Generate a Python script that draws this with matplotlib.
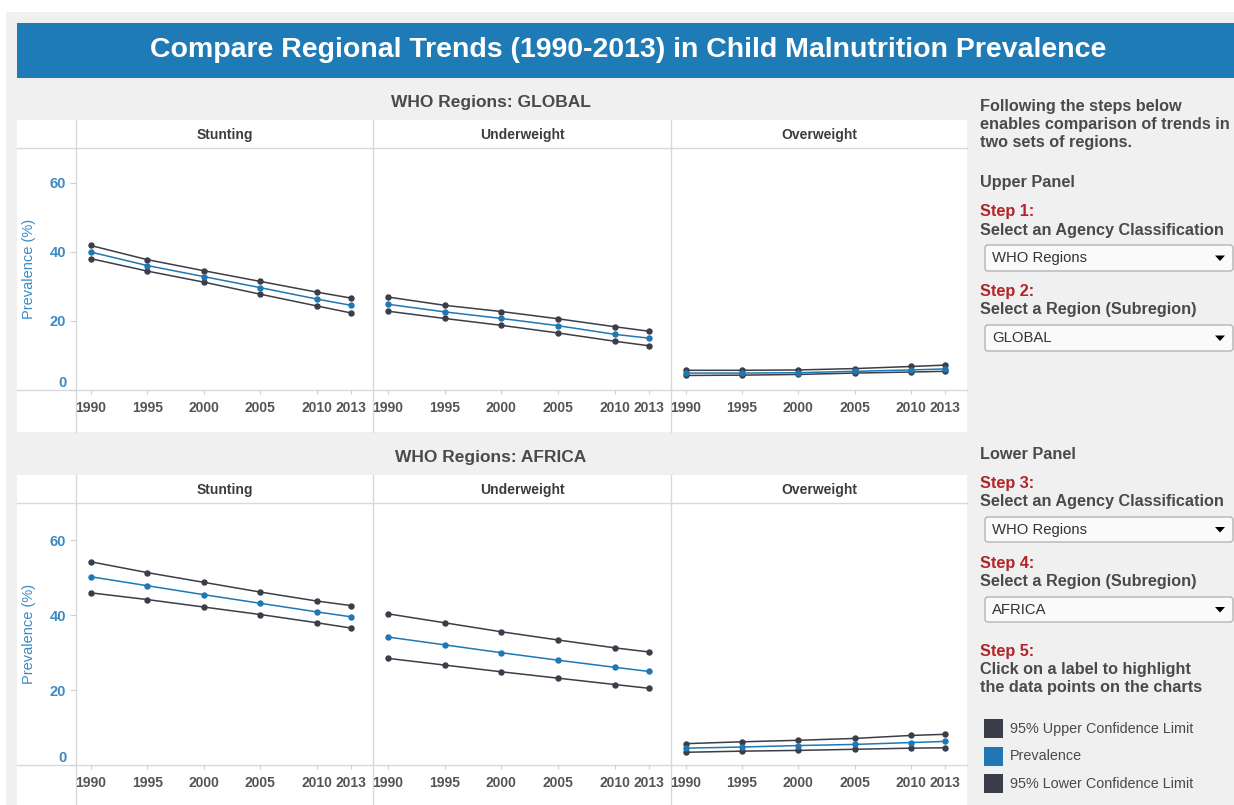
import matplotlib.pyplot as plt
from matplotlib.patches import Rectangle, FancyBboxPatch, Polygon

plt.rcParams['font.family'] = ['Liberation Sans', 'DejaVu Sans']

years = [1990, 1995, 2000, 2005, 2010, 2013]
indicators = ["Stunting", "Underweight", "Overweight"]
regions = ["GLOBAL", "AFRICA"]

# values (prevalence %)
global_stunting_upper = [41.8, 37.7, 34.5, 31.4, 28.3, 26.6]
global_stunting_prev = [39.9, 36.0, 32.8, 29.6, 26.3, 24.5]
global_stunting_lower = [38.0, 34.4, 31.2, 27.7, 24.3, 22.3]
global_underweight_upper = [26.9, 24.5, 22.7, 20.6, 18.3, 17.0]
global_underweight_prev = [24.8, 22.6, 20.7, 18.6, 16.1, 15.0]
global_underweight_lower = [22.8, 20.7, 18.7, 16.5, 14.1, 12.8]
global_overweight_upper = [5.7, 5.7, 5.8, 6.2, 6.8, 7.2]
global_overweight_prev = [4.9, 4.9, 5.0, 5.4, 5.8, 6.1]
global_overweight_lower = [4.2, 4.3, 4.5, 4.9, 5.2, 5.4]

africa_stunting_upper = [54.3, 51.4, 48.8, 46.2, 43.8, 42.6]
africa_stunting_prev = [50.3, 47.9, 45.5, 43.2, 40.9, 39.6]
africa_stunting_lower = [46.0, 44.2, 42.2, 40.2, 38.0, 36.6]
africa_underweight_upper = [40.4, 38.0, 35.6, 33.4, 31.3, 30.2]
africa_underweight_prev = [34.2, 32.1, 30.0, 28.0, 26.1, 25.0]
africa_underweight_lower = [28.5, 26.7, 24.9, 23.2, 21.5, 20.5]
africa_overweight_upper = [5.7, 6.2, 6.6, 7.1, 7.9, 8.2]
africa_overweight_prev = [4.5, 4.8, 5.2, 5.5, 6.0, 6.3]
africa_overweight_lower = [3.4, 3.7, 3.9, 4.2, 4.5, 4.6]

data = {
    "GLOBAL": [
        (global_stunting_upper, global_stunting_prev, global_stunting_lower),
        (global_underweight_upper, global_underweight_prev, global_underweight_lower),
        (global_overweight_upper, global_overweight_prev, global_overweight_lower),
    ],
    "AFRICA": [
        (africa_stunting_upper, africa_stunting_prev, africa_stunting_lower),
        (africa_underweight_upper, africa_underweight_prev, africa_underweight_lower),
        (africa_overweight_upper, africa_overweight_prev, africa_overweight_lower),
    ],
}

W, H = 1234, 805
BLUE = '#1f77b4'
DARK = '#3b3e48'
GRID = '#d9d9d9'
TXT = '#4a4a4a'
RED = '#b3242a'
YBLUE = '#3a8ac4'

fig = plt.figure(figsize=(W / 100, H / 100), dpi=100)
bg = fig.add_axes([0, 0, 1, 1], zorder=0)
bg.set_xlim(0, W)
bg.set_ylim(H, 0)
bg.axis('off')

def rect(x0, y0, x1, y1, color):
    bg.add_patch(Rectangle((x0, y0), x1 - x0, y1 - y0, color=color, lw=0))

def hline(y, x0, x1):
    bg.plot([x0, x1], [y, y], color=GRID, lw=1)

def vline(x, y0, y1):
    bg.plot([x, x], [y0, y1], color=GRID, lw=1)

rect(6, 12, W, H, '#f0f0f0')
rect(17, 23, W, 78, '#1f7bb6')
bg.text(628, 50, "Compare Regional Trends (1990-2013) in Child Malnutrition Prevalence",
        color='white', fontsize=20.5, fontweight='bold', ha='center', va='center')

col_edges = [76, 373, 671, 967]
panels = [
    # top, header text y, header line, baseline, bottom
    (120, 102, 148, 390, 432),
    (475, 457, 503, 765, 805),
]

for region, (top, ty, head, base, bot) in zip(regions, panels):
    rect(17, top, col_edges[-1], bot, 'white')
    bg.text(491, ty, "WHO Regions: " + region, color=TXT, fontsize=12.5,
            fontweight='bold', ha='center', va='center')
    hline(head, 17, col_edges[-1])
    hline(base, 17, col_edges[-1])
    for x in col_edges[:-1]:
        vline(x, top, bot)
    bg.text(29, (head + base) / 2, "Prevalence (%)", color=YBLUE, fontsize=10.5,
            rotation=90, ha='center', va='center')

    for i, name in enumerate(indicators):
        c0, c1 = col_edges[i], col_edges[i + 1]
        bg.text((c0 + c1) / 2, (top + head) / 2 + 1, name, color='#3c3c3c',
                fontsize=10, fontweight='bold', ha='center', va='center')
        ax = fig.add_axes([c0 / W, 1 - base / H, (c1 - c0) / W, (base - head) / H], zorder=1)
        ax.patch.set_alpha(0)
        for s in ax.spines.values():
            s.set_visible(False)
        upper, prev, lower = data[region][i]
        ax.plot(years, upper, color=DARK, lw=1.1, marker='o', ms=3.6)
        ax.plot(years, lower, color=DARK, lw=1.1, marker='o', ms=3.6)
        ax.plot(years, prev, color=BLUE, lw=1.1, marker='o', ms=3.6)
        ax.set_xlim(1988.7, 2014.95)
        ax.set_ylim(0, 70)
        ax.set_xticks(years)
        ax.set_xticklabels([str(y) for y in years])
        ax.tick_params(axis='x', length=3, color='#cfcfcf', pad=5, labelsize=10,
                       labelcolor='#555555')
        for lab in ax.get_xticklabels():
            lab.set_fontweight('bold')
        if i == 0:
            ax.set_yticks([0, 20, 40, 60])
            ax.tick_params(axis='y', length=4, color='#cfcfcf', pad=3, labelsize=10.5,
                           labelcolor=YBLUE)
            for lab in ax.get_yticklabels():
                lab.set_fontweight('bold')
            ax.get_yticklabels()[0].set_va('bottom')
        else:
            ax.set_yticks([])

# side panel
def side(y, s, color=TXT, bold=True, x=980, size=11.7):
    bg.text(x, y, s, color=color, fontsize=size, fontweight='bold' if bold else 'normal',
            ha='left', va='center')

def dropdown(y0, y1, label):
    bg.add_patch(FancyBboxPatch((985, y0), 248, y1 - y0, boxstyle='round,pad=0,rounding_size=3',
                                fc='#fafafa', ec='#b5b5b5', lw=1))
    bg.text(992, (y0 + y1) / 2, label, color='#333333', fontsize=10.7, ha='left', va='center')
    cy = (y0 + y1) / 2
    bg.add_patch(Polygon([(1215, cy - 2.5), (1225, cy - 2.5), (1220, cy + 3)], closed=True,
                         color='black', lw=0))

side(107, "Following the steps below")
side(125, "enables comparison of trends in")
side(143, "two sets of regions.")
side(183, "Upper Panel")
side(211, "Step 1:", RED)
side(230, "Select an Agency Classification")
dropdown(245, 271, "WHO Regions")
side(291, "Step 2:", RED)
side(309, "Select a Region (Subregion)")
dropdown(325, 351, "GLOBAL")
side(454, "Lower Panel")
side(483, "Step 3:", RED)
side(501, "Select an Agency Classification")
dropdown(517, 542, "WHO Regions")
side(563, "Step 4:", RED)
side(581, "Select a Region (Subregion)")
dropdown(597, 622, "AFRICA")
side(651, "Step 5:", RED)
side(669, "Click on a label to highlight")
side(687, "the data points on the charts")

legend_items = ["95% Upper Confidence Limit", "Prevalence", "95% Lower Confidence Limit"]
legend_colors = [DARK, BLUE, DARK]
for k, (lab, col) in enumerate(zip(legend_items, legend_colors)):
    y0 = 719 + k * 27.5
    rect(984, y0, 1003, y0 + 19, col)
    bg.text(1010, y0 + 9.5, lab, color=TXT, fontsize=10.4, ha='left', va='center')

fig.savefig('out.png', dpi=100)
